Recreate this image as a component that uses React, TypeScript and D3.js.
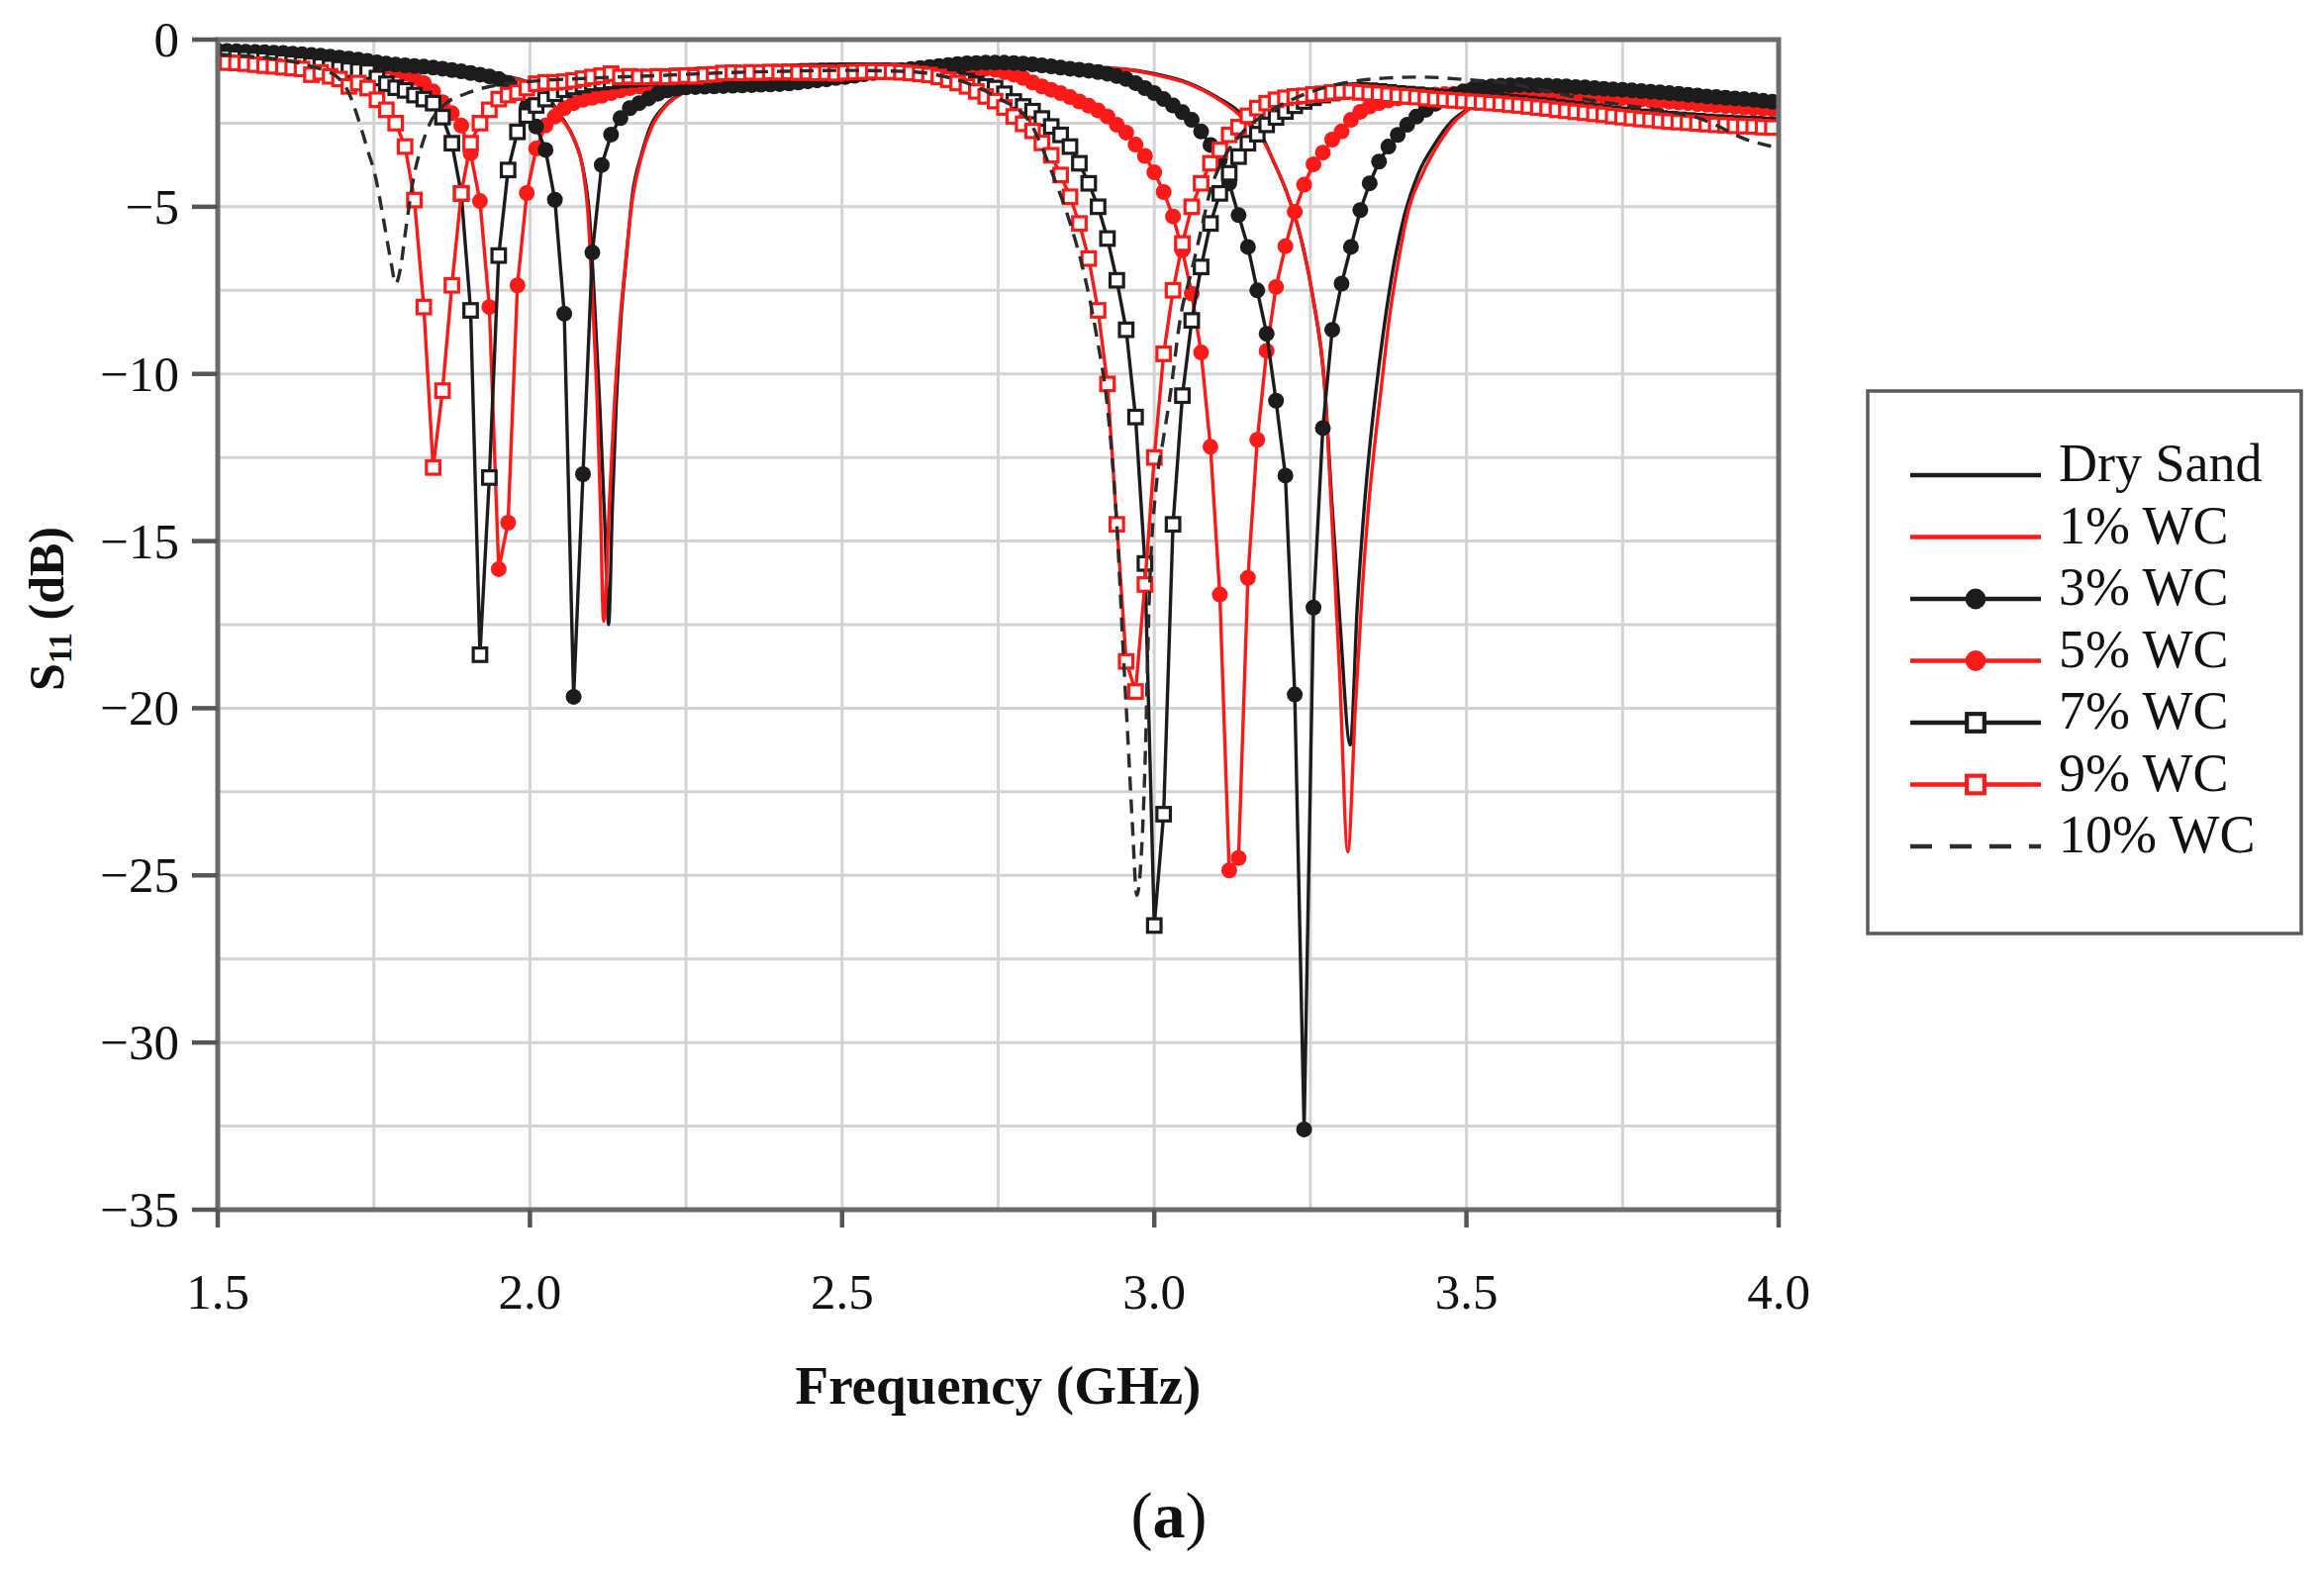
import React from "react";
import * as d3 from "d3";

// ---------- DATA ----------
// Measurement sweep used for the marker series (GHz)
const freqStart = 1.5;
const freqStep = 0.015;
const markerFreq: number[] = d3.range(167).map((i) => +(freqStart + i * freqStep).toFixed(3));

// 3% WC (black filled circles), dB at markerFreq
const wc3Db = [
  -0.33, -0.34, -0.35, -0.36, -0.37, -0.38, -0.39, -0.40, -0.42, -0.44,
  -0.46, -0.48, -0.51, -0.54, -0.57, -0.60, -0.64, -0.68, -0.72, -0.75,
  -0.77, -0.79, -0.81, -0.84, -0.87, -0.91, -0.95, -1.00, -1.05, -1.10,
  -1.18, -1.30, -1.60, -2.00, -2.60, -3.30, -4.79, -8.20, -19.66, -13.00,
  -6.37, -3.75, -2.84, -2.35, -2.05, -1.90, -1.76, -1.62, -1.52, -1.47,
  -1.43, -1.42, -1.41, -1.40, -1.39, -1.38, -1.37, -1.36, -1.35, -1.34,
  -1.33, -1.31, -1.28, -1.25, -1.22, -1.19, -1.15, -1.12, -1.08, -1.04,
  -1.00, -0.97, -0.94, -0.91, -0.88, -0.85, -0.82, -0.79, -0.76, -0.73,
  -0.71, -0.70, -0.69, -0.69, -0.69, -0.70, -0.72, -0.74, -0.77, -0.80,
  -0.84, -0.87, -0.90, -0.93, -0.97, -1.02, -1.09, -1.18, -1.30, -1.45,
  -1.60, -1.78, -1.97, -2.17, -2.40, -2.75, -3.15, -3.60, -4.30, -5.25,
  -6.20, -7.50, -8.80, -10.80, -13.04, -19.59, -32.60, -16.99, -11.62, -8.68,
  -7.30, -6.20, -5.10, -4.30, -3.65, -3.20, -2.85, -2.55, -2.30, -2.10,
  -1.92, -1.78, -1.65, -1.55, -1.48, -1.43, -1.40, -1.38, -1.37, -1.36,
  -1.36, -1.37, -1.38, -1.39, -1.40, -1.42, -1.43, -1.45, -1.47, -1.49,
  -1.50, -1.52, -1.54, -1.56, -1.58, -1.60, -1.62, -1.65, -1.67, -1.70,
  -1.72, -1.74, -1.76, -1.78, -1.80, -1.83, -1.86,
];

// 5% WC (red filled circles)
const wc5Db = [
  -0.38, -0.39, -0.40, -0.41, -0.42, -0.43, -0.44, -0.45, -0.47, -0.49,
  -0.51, -0.53, -0.56, -0.59, -0.62, -0.65, -0.68, -0.73, -0.82, -0.92,
  -1.02, -1.15, -1.30, -1.55, -1.87, -2.20, -2.57, -3.40, -4.83, -8.00,
  -15.84, -14.45, -7.35, -4.59, -3.26, -2.57, -2.30, -2.05, -1.90, -1.80,
  -1.74, -1.68, -1.60, -1.52, -1.45, -1.40, -1.36, -1.33, -1.30, -1.28,
  -1.26, -1.24, -1.22, -1.20, -1.18, -1.16, -1.14, -1.12, -1.10, -1.08,
  -1.06, -1.05, -1.04, -1.03, -1.02, -1.01, -1.00, -0.99, -0.98, -0.97,
  -0.96, -0.95, -0.94, -0.93, -0.92, -0.91, -0.90, -0.89, -0.88, -0.87,
  -0.86, -0.86, -0.87, -0.90, -0.97, -1.05, -1.15, -1.28, -1.40, -1.50,
  -1.60, -1.72, -1.85, -1.98, -2.12, -2.30, -2.55, -2.78, -3.14, -3.48,
  -3.97, -4.56, -5.29, -6.30, -7.60, -9.36, -12.18, -16.60, -24.85, -24.48,
  -16.10, -11.97, -9.31, -7.40, -6.18, -5.15, -4.34, -3.73, -3.38, -2.99,
  -2.75, -2.40, -2.16, -2.00, -1.90, -1.82, -1.76, -1.72, -1.69, -1.66,
  -1.64, -1.63, -1.62, -1.61, -1.60, -1.60, -1.59, -1.59, -1.58, -1.58,
  -1.58, -1.59, -1.60, -1.61, -1.62, -1.64, -1.66, -1.68, -1.70, -1.72,
  -1.75, -1.77, -1.79, -1.82, -1.84, -1.86, -1.88, -1.90, -1.93, -1.95,
  -1.97, -1.99, -2.01, -2.03, -2.05, -2.07, -2.08,
];

// 7% WC (black open squares)
const wc7Db = [
  -0.50, -0.52, -0.54, -0.56, -0.58, -0.60, -0.63, -0.66, -0.69, -0.72,
  -0.75, -0.78, -0.82, -0.86, -0.90, -0.93, -0.96, -1.15, -1.32, -1.44,
  -1.52, -1.66, -1.78, -1.90, -2.32, -3.10, -4.60, -8.10, -18.40, -13.10,
  -6.46, -3.90, -2.76, -2.27, -1.97, -1.78, -1.62, -1.50, -1.42, -1.36,
  -1.30, -1.27, -1.24, -1.21, -1.19, -1.17, -1.15, -1.13, -1.11, -1.09,
  -1.08, -1.07, -1.06, -1.05, -1.04, -1.03, -1.02, -1.01, -1.00, -0.99,
  -0.98, -0.97, -0.96, -0.95, -0.95, -0.94, -0.94, -0.93, -0.93, -0.93,
  -0.93, -0.93, -0.94, -0.95, -0.97, -0.99, -1.02, -1.06, -1.11, -1.18,
  -1.24, -1.32, -1.40, -1.45, -1.62, -1.85, -2.00, -2.14, -2.36, -2.60,
  -2.85, -3.20, -3.70, -4.30, -5.00, -5.95, -7.20, -8.68, -11.29, -15.67,
  -26.50, -23.17, -14.50, -10.65, -8.40, -6.80, -5.50, -4.60, -4.00, -3.50,
  -3.10, -2.83, -2.55, -2.33, -2.15, -1.98, -1.85, -1.74, -1.66, -1.60,
  -1.56, -1.53, -1.52, -1.53, -1.55, -1.58, -1.61, -1.63, -1.65, -1.68,
  -1.71, -1.73, -1.75, -1.77, -1.79, -1.81, -1.83, -1.85, -1.88, -1.90,
  -1.93, -1.96, -1.99, -2.03, -2.06, -2.09, -2.12, -2.15, -2.18, -2.22,
  -2.25, -2.28, -2.31, -2.33, -2.36, -2.38, -2.40, -2.42, -2.44, -2.46,
  -2.48, -2.49, -2.51, -2.52, -2.53, -2.55, -2.56,
];

// 9% WC (red open squares)
const wc9Db = [
  -0.65, -0.69, -0.70, -0.72, -0.75, -0.78, -0.80, -0.83, -0.85, -0.88,
  -1.05, -0.98, -1.10, -1.18, -1.40, -1.30, -1.45, -1.80, -2.10, -2.50,
  -3.20, -4.80, -8.00, -12.80, -10.50, -7.35, -4.60, -3.10, -2.50, -2.10,
  -1.78, -1.66, -1.58, -1.45, -1.32, -1.28, -1.28, -1.26, -1.22, -1.17,
  -1.12, -1.08, -1.02, -1.12, -1.10, -1.12, -1.12, -1.10, -1.12, -1.10,
  -1.08, -1.10, -1.06, -1.04, -1.00, -0.99, -1.00, -0.98, -0.99, -0.97,
  -0.98, -0.97, -0.99, -0.98, -1.00, -0.99, -1.01, -0.98, -0.97, -0.96,
  -0.95, -0.96, -0.96, -0.98, -1.00, -1.03, -1.06, -1.12, -1.20, -1.30,
  -1.40, -1.55, -1.70, -1.84, -2.03, -2.30, -2.52, -2.73, -3.09, -3.46,
  -4.05, -4.70, -5.50, -6.55, -8.10, -10.30, -14.50, -18.60, -19.50, -16.30,
  -12.50, -9.40, -7.50, -6.10, -5.00, -4.30, -3.70, -3.30, -2.85, -2.62,
  -2.28, -2.05, -1.90, -1.80, -1.74, -1.70, -1.68, -1.64, -1.62, -1.58,
  -1.55, -1.55, -1.58, -1.60, -1.62, -1.65, -1.68, -1.70, -1.72, -1.75,
  -1.78, -1.80, -1.82, -1.84, -1.86, -1.88, -1.90, -1.92, -1.95, -1.97,
  -2.00, -2.03, -2.06, -2.10, -2.13, -2.16, -2.19, -2.22, -2.25, -2.29,
  -2.32, -2.35, -2.38, -2.40, -2.43, -2.45, -2.47, -2.49, -2.51, -2.53,
  -2.55, -2.56, -2.58, -2.59, -2.60, -2.62, -2.63,
];

// Dry sand (black solid line)
const dryFreq = [
  1.5, 1.6, 1.7, 1.8, 1.9, 1.95, 2.0, 2.03, 2.05, 2.07,
  2.085, 2.095, 2.103, 2.112, 2.12, 2.126, 2.132, 2.138, 2.146, 2.154,
  2.164, 2.178, 2.193, 2.215, 2.241, 2.28, 2.36, 2.45, 2.55, 2.65,
  2.75, 2.85, 2.95, 3.0, 3.055, 3.1, 3.135, 3.155, 3.174, 3.19,
  3.212, 3.233, 3.254, 3.273, 3.285, 3.297, 3.314, 3.325, 3.335, 3.345,
  3.355, 3.368, 3.383, 3.4, 3.422, 3.45, 3.476, 3.5, 3.525, 3.55,
  3.6, 3.7, 3.8, 3.9, 4.0,
];
const dryDb = [
  -0.28, -0.37, -0.5, -0.72, -0.93, -1.06, -1.3, -1.75, -2.3, -2.95,
  -3.85, -5.2, -7.7, -11.0, -14.5, -17.5, -14.0, -11.0, -8.3, -6.6,
  -4.66, -3.48, -2.6, -2.0, -1.62, -1.42, -1.23, -1.1, -1.0, -0.9,
  -0.83, -0.8, -0.88, -1.02, -1.3, -1.72, -2.15, -2.55, -2.95, -3.6,
  -4.56, -5.8, -7.7, -10.4, -14.0, -17.3, -21.1, -17.0, -14.3, -12.2,
  -10.5, -8.6, -6.8, -5.3, -4.05, -3.1, -2.45, -2.1, -1.78, -1.65,
  -1.6, -1.65, -1.78, -1.9, -2.02,
];

// 1% WC (red solid line)
const wc1Freq = [
  1.5, 1.6, 1.7, 1.8, 1.9, 1.95, 2.0, 2.03, 2.05, 2.07,
  2.085, 2.093, 2.1, 2.108, 2.113, 2.118, 2.127, 2.135, 2.144, 2.153,
  2.164, 2.178, 2.195, 2.217, 2.243, 2.28, 2.36, 2.45, 2.55, 2.65,
  2.75, 2.85, 2.95, 3.0, 3.055, 3.1, 3.133, 3.155, 3.174, 3.19,
  3.212, 3.233, 3.254, 3.273, 3.285, 3.297, 3.31, 3.322, 3.333, 3.343,
  3.352, 3.363, 3.376, 3.392, 3.407, 3.43, 3.456, 3.481, 3.503, 3.525,
  3.55, 3.6, 3.7, 3.8, 3.9, 4.0,
];
const wc1Db = [
  -0.3, -0.4, -0.55, -0.75, -0.95, -1.08, -1.33, -1.8, -2.35, -2.95,
  -3.9, -5.2, -7.7, -11.0, -14.0, -17.4, -14.0, -11.0, -8.5, -6.7,
  -4.8, -3.55, -2.62, -2.0, -1.62, -1.42, -1.23, -1.1, -1.0, -0.9,
  -0.82, -0.8, -0.88, -1.05, -1.32, -1.75, -2.2, -2.6, -3.0, -3.6,
  -4.56, -5.8, -7.7, -10.4, -14.5, -19.0, -24.3, -20.0, -16.5, -14.0,
  -12.3, -10.5, -8.4, -6.5, -5.1, -4.0, -3.1, -2.45, -2.1, -1.8,
  -1.62, -1.52, -1.5, -1.58, -1.75, -1.95,
];

// 10% WC (black dashed line)
const wc10Freq = [
  1.5, 1.55, 1.6, 1.65, 1.69, 1.71, 1.725, 1.74, 1.752, 1.765,
  1.777, 1.785, 1.793, 1.801, 1.814, 1.827, 1.84, 1.86, 1.9, 1.95,
  2.0, 2.1, 2.2, 2.3, 2.4, 2.5, 2.6, 2.65, 2.7, 2.75,
  2.8, 2.838, 2.867, 2.885, 2.908, 2.925, 2.94, 2.95, 2.958, 2.965,
  2.972, 2.985, 2.992, 3.004, 3.014, 3.025, 3.042, 3.06, 3.075, 3.09,
  3.11, 3.14, 3.18, 3.22, 3.27, 3.32, 3.37, 3.43, 3.5, 3.555,
  3.62, 3.69, 3.756, 3.815, 3.88, 3.95, 3.99,
];
const wc10Db = [
  -0.45, -0.5, -0.6, -0.8, -1.1, -1.6, -2.37, -3.3, -4.05, -5.33,
  -6.6, -7.3, -6.8, -5.7, -4.1, -3.16, -2.5, -2.0, -1.6, -1.35,
  -1.25, -1.15, -1.08, -1.0, -0.95, -0.92, -0.95, -1.05, -1.3, -1.75,
  -2.45, -4.07, -5.6, -6.8, -8.9, -11.0, -14.5, -18.2, -21.0, -23.5,
  -25.6, -21.8, -16.7, -13.2, -12.0, -10.7, -8.3, -6.9, -5.7, -4.5,
  -3.6, -2.8, -2.2, -1.8, -1.45, -1.25, -1.15, -1.12, -1.2, -1.28,
  -1.5, -1.78, -1.97, -2.12, -2.4, -3.0, -3.2,
];

const xTicks = [1.5, 2.0, 2.5, 3.0, 3.5, 4.0];
const yTicks = [0, -5, -10, -15, -20, -25, -30, -35];
const seriesNames = ["Dry Sand", "1% WC", "3% WC", "5% WC", "7% WC", "9% WC", "10% WC"];

// ---------- CHART ----------
type P = [number, number];
type Kind = "none" | "dot" | "square";

const W = 2348;
const H = 1588;
const BLACK = "#1c1c1c";
const RED = "#ff1a1a";
const FONT = "'Liberation Serif', 'Times New Roman', serif";

function Marker({ kind, cx, cy, color, s = 1 }: { kind: Kind; cx: number; cy: number; color: string; s?: number }) {
  if (kind === "dot") return <circle cx={cx} cy={cy} r={8 * s} fill={color} />;
  if (kind === "square")
    return (
      <rect
        x={cx - 6.8 * s}
        y={cy - 6.8 * s}
        width={13.6 * s}
        height={13.6 * s}
        fill="#ffffff"
        stroke={color}
        strokeWidth={3.2 * s}
      />
    );
  return null;
}

export default function App() {
  const x = d3.scaleLinear().domain([1.5, 4]).range([220, 1797]);
  const y = d3.scaleLinear().domain([-35, 0]).range([1222, 40]);
  const zip = (f: number[], v: number[]): P[] => f.map((ff, i) => [ff, v[i]] as P);
  const smooth = d3.line<P>().x((d) => x(d[0])).y((d) => y(d[1])).curve(d3.curveMonotoneX);
  const straight = d3.line<P>().x((d) => x(d[0])).y((d) => y(d[1]));

  const series: { name: string; pts: P[]; color: string; kind: Kind; smooth: boolean; dash?: string }[] = [
    { name: seriesNames[0], pts: zip(dryFreq, dryDb), color: BLACK, kind: "none", smooth: true },
    { name: seriesNames[1], pts: zip(wc1Freq, wc1Db), color: RED, kind: "none", smooth: true },
    { name: seriesNames[2], pts: zip(markerFreq, wc3Db), color: BLACK, kind: "dot", smooth: false },
    { name: seriesNames[3], pts: zip(markerFreq, wc5Db), color: RED, kind: "dot", smooth: false },
    { name: seriesNames[4], pts: zip(markerFreq, wc7Db), color: BLACK, kind: "square", smooth: false },
    { name: seriesNames[5], pts: zip(markerFreq, wc9Db), color: RED, kind: "square", smooth: false },
    { name: seriesNames[6], pts: zip(wc10Freq, wc10Db), color: "#2b2b2b", kind: "none", smooth: true, dash: "14 9" },
  ];
  const drawOrder = [0, 1, 3, 2, 4, 5, 6];

  const [x0, x1] = x.range();
  const [y0, y1] = [y(0), y(-35)];
  const vGrid = d3.range(1.75, 4, 0.25);
  const hGrid = d3.range(-2.5, -35, -2.5);

  const legX = 1887, legY = 395, legW = 438, legH = 548;
  const rowY = (i: number) => 480 + i * 62.5;

  return (
    <svg
      width={W}
      height={H}
      viewBox={`0 0 ${W} ${H}`}
      style={{ position: "absolute", left: 0, top: 0, background: "#fff" }}
      fontFamily={FONT}
    >
      <rect x={0} y={0} width={W} height={H} fill="#fff" />
      <defs>
        <clipPath id="plotClip">
          <rect x={x0} y={y0 - 2} width={x1 - x0} height={y1 - y0 + 4} />
        </clipPath>
      </defs>

      {/* grid */}
      <g stroke="#d3d3d3" strokeWidth={3}>
        {vGrid.map((f) => (
          <line key={"v" + f} x1={x(f)} x2={x(f)} y1={y0} y2={y1} />
        ))}
        {hGrid.map((v) => (
          <line key={"h" + v} x1={x0} x2={x1} y1={y(v)} y2={y(v)} />
        ))}
      </g>

      {/* series */}
      <g clipPath="url(#plotClip)">
        {drawOrder.map((si) => {
          const s = series[si];
          const d = (s.smooth ? smooth : straight)(s.pts) || "";
          return (
            <g key={s.name}>
              <path d={d} fill="none" stroke={s.color} strokeWidth={3.4} strokeDasharray={s.dash} strokeLinejoin="round" />
              {s.kind !== "none" &&
                s.pts.map((p, i) => <Marker key={i} kind={s.kind} cx={x(p[0])} cy={y(p[1])} color={s.color} />)}
            </g>
          );
        })}
      </g>

      {/* frame */}
      <g stroke="#6b6b6b" strokeWidth={5} fill="none">
        <rect x={x0} y={y0} width={x1 - x0} height={y1 - y0} />
      </g>

      {/* y axis ticks & labels */}
      {yTicks.map((v) => (
        <g key={"yt" + v}>
          <line x1={194} x2={x0} y1={y(v)} y2={y(v)} stroke="#555" strokeWidth={4.5} />
          <text x={181} y={y(v) + 17} fontSize={51} textAnchor="end" fill="#111">
            {v === 0 ? "0" : "\u2212" + Math.abs(v)}
          </text>
        </g>
      ))}

      {/* x axis ticks & labels */}
      {xTicks.map((f) => (
        <g key={"xt" + f}>
          <line x1={x(f)} x2={x(f)} y1={y1} y2={y1 + 18} stroke="#555" strokeWidth={4.5} />
          <text x={x(f)} y={1322} fontSize={51} textAnchor="middle" fill="#111">
            {f.toFixed(1)}
          </text>
        </g>
      ))}

      {/* axis titles */}
      <text x={(x0 + x1) / 2} y={1418} fontSize={55} fontWeight="bold" textAnchor="middle" fill="#111">
        Frequency (GHz)
      </text>
      <text
        transform={`translate(64, ${(y0 + y1) / 2 - 16}) rotate(-90)`}
        fontSize={50}
        fontWeight="bold"
        textAnchor="middle"
        fill="#111"
      >
        S
        <tspan fontSize={33} dy={8}>
          11
        </tspan>
        <tspan dy={-8}> (dB)</tspan>
      </text>

      {/* legend */}
      <rect x={legX} y={legY} width={legW} height={legH} fill="#fff" stroke="#5a5a5a" strokeWidth={3.5} />
      {series.map((s, i) => {
        const ly = rowY(i);
        return (
          <g key={"leg" + s.name}>
            <line
              x1={1930}
              x2={2062}
              y1={ly}
              y2={ly}
              stroke={s.color}
              strokeWidth={4.5}
              strokeDasharray={s.dash ? "22 18" : undefined}
            />
            <Marker kind={s.kind} cx={1996} cy={ly} color={s.color} s={1.3} />
            <text x={2080} y={ly + 6} fontSize={54} fill="#111">
              {s.name}
            </text>
          </g>
        );
      })}

      {/* panel label */}
      <text x={1181} y={1553} fontSize={66} textAnchor="middle" fill="#111">
        (<tspan fontWeight="bold">a</tspan>)
      </text>
    </svg>
  );
}
